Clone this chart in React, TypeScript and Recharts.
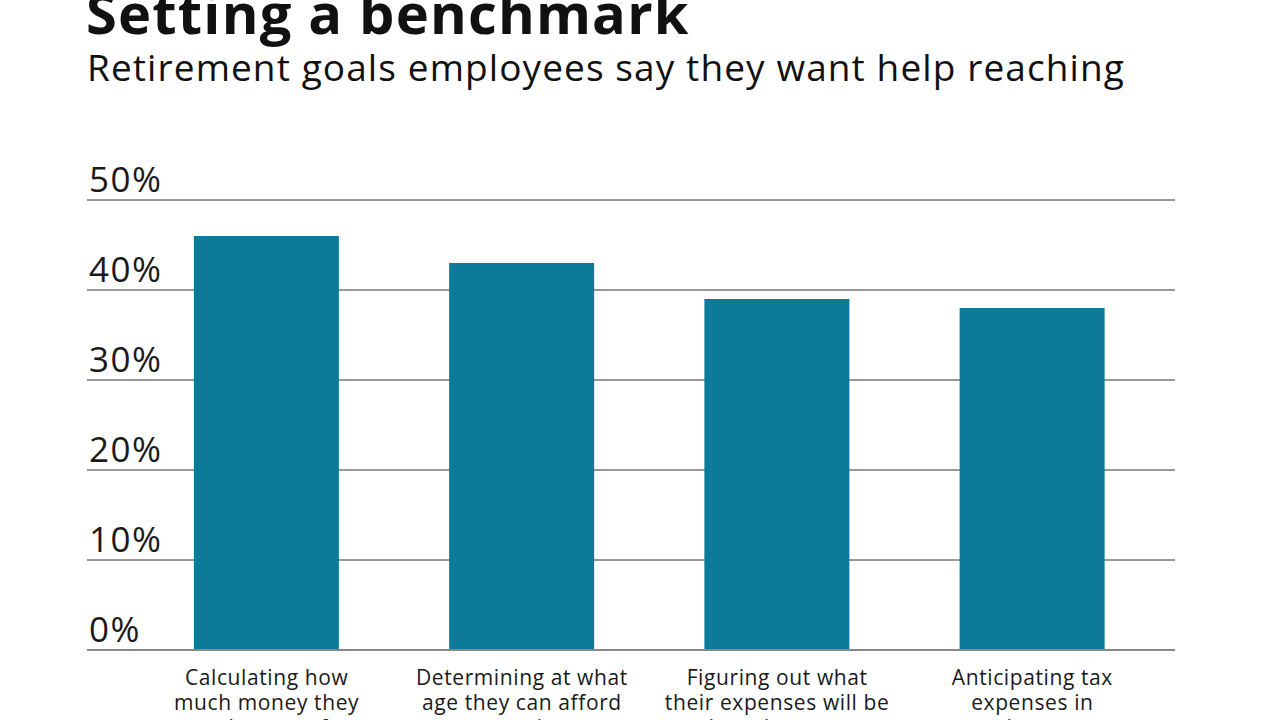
import React from 'react';
import { BarChart, Bar, XAxis, YAxis, CartesianGrid } from 'recharts';

const categories = [
  'Calculating how\nmuch money they\nneed to save for\nretirement',
  'Determining at what\nage they can afford\nto retire',
  'Figuring out what\ntheir expenses will be\nin retirement',
  'Anticipating tax\nexpenses in\nretirement',
];
const shares = [46, 43, 39, 38];
const yTicks = [0, 10, 20, 30, 40, 50];

const data = categories.map((goal, i) => ({ goal, share: shares[i] }));

const FONT = '"Open Sans", Lato, sans-serif';

function GoalTick(props: any) {
  const { x, y, payload } = props;
  const lines = String(payload.value).split('\n');
  return (
    <text x={x} y={y} textAnchor="middle" fontFamily={FONT} fontSize={21} letterSpacing={0.6} fill="#1a1a1a">
      {lines.map((line, i) => (
        <tspan key={i} x={x} dy={i === 0 ? 33 : 25}>
          {line}
        </tspan>
      ))}
    </text>
  );
}

function PercentTick(props: any) {
  const { y, payload } = props;
  return (
    <text x={89} y={y - 8} textAnchor="start" fontFamily={FONT} fontSize={35} letterSpacing={1.5} fill="#1a1a1a">
      {payload.value}%
    </text>
  );
}

export default function App() {
  return (
    <div style={{ position: 'absolute', left: 0, top: 0, width: 1280, height: 720, overflow: 'hidden', background: '#fff' }}>
      <div style={{ position: 'absolute', left: 86, top: -12, lineHeight: '48px', fontFamily: FONT, fontWeight: 700, fontSize: 56, letterSpacing: 1.2, color: '#111', whiteSpace: 'nowrap' }}>
        Setting a benchmark
      </div>
      <div style={{ position: 'absolute', left: 87, top: 45, lineHeight: '44px', fontFamily: FONT, fontSize: 37, letterSpacing: 1.1, color: '#111', whiteSpace: 'nowrap' }}>
        Retirement goals employees say they want help reaching
      </div>
      <div style={{ position: 'absolute', left: 0, top: 0 }}>
        <BarChart
          width={1280}
          height={720}
          data={data}
          margin={{ top: 200, right: 105, bottom: 0, left: 0 }}
          barCategoryGap="21.5%"
        >
          <CartesianGrid vertical={false} stroke="#333" strokeWidth={1} />
          <XAxis
            dataKey="goal"
            height={70}
            interval={0}
            tickLine={false}
            tickSize={0}
            axisLine={{ stroke: '#888', strokeWidth: 2 }}
            padding={{ left: 52, right: 15 }}
            tick={<GoalTick />}
          />
          <YAxis
            width={87}
            domain={[0, 50]}
            ticks={yTicks}
            axisLine={false}
            tickLine={false}
            tick={<PercentTick />}
          />
          <Bar dataKey="share" fill="#0e7a99" isAnimationActive={false} />
        </BarChart>
      </div>
    </div>
  );
}
